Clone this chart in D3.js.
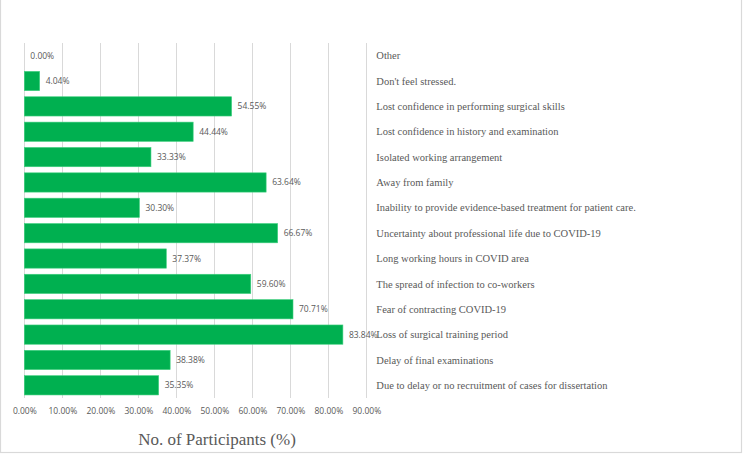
<!DOCTYPE html>
<html>
<head>
<meta charset="utf-8">
<script src="https://cdn.jsdelivr.net/npm/d3@7"></script>
<style>
  html, body { margin: 0; padding: 0; background: #fff; }
  svg { display: block; }
  .serif { font-family: "Liberation Serif", "Times New Roman", serif; }
  .sans { font-family: "Open Sans", sans-serif; }
</style>
</head>
<body>
<svg id="chart" width="743" height="455"></svg>
<script>
const categories = [
  "Other",
  "Don't feel stressed.",
  "Lost confidence in performing surgical skills",
  "Lost confidence in history and examination",
  "Isolated working arrangement",
  "Away from family",
  "Inability to provide evidence-based treatment for patient care.",
  "Uncertainty about professional life due to COVID-19",
  "Long working hours in COVID area",
  "The spread of infection to co-workers",
  "Fear of contracting COVID-19",
  "Loss of surgical training period",
  "Delay of final examinations",
  "Due to delay or no recruitment of cases for dissertation"
];
const values = [0.00, 4.04, 54.55, 44.44, 33.33, 63.64, 30.30, 66.67, 37.37, 59.60, 70.71, 83.84, 38.38, 35.35];
const tickValues = [0, 10, 20, 30, 40, 50, 60, 70, 80, 90];
const axisTitle = "No. of Participants (%)";

const svg = d3.select("#chart");
const W = 743, H = 455;

// outer frame
svg.append("rect")
  .attr("x", 0.5).attr("y", -1).attr("width", W - 2).attr("height", H - 1.5)
  .attr("fill", "#fff").attr("stroke", "#d9d9d9").attr("stroke-width", 1.2);

const x = d3.scaleLinear().domain([0, 90]).range([24.3, 366.3]);
const y = d3.scaleBand().domain(categories).range([43, 398]).paddingInner(0.24).paddingOuter(0.12);

// gridlines
svg.append("g").selectAll("line").data(tickValues).join("line")
  .attr("x1", d => Math.round(x(d)) + 0.5).attr("x2", d => Math.round(x(d)) + 0.5)
  .attr("y1", 43).attr("y2", 398)
  .attr("stroke", "#d9d9d9").attr("stroke-width", 1);

// bars
svg.append("g").selectAll("rect").data(values).join("rect")
  .attr("x", x(0))
  .attr("y", (d, i) => y(categories[i]))
  .attr("width", d => x(d) - x(0))
  .attr("height", y.bandwidth())
  .attr("fill", "#00b050")
  .attr("stroke", d => d > 0 ? "#3fd07f" : "none")
  .attr("stroke-width", 0.6);

// value labels
svg.append("g").selectAll("text").data(values).join("text")
  .attr("class", "sans")
  .attr("x", d => x(d) + 6)
  .attr("y", (d, i) => y(categories[i]) + y.bandwidth() / 2)
  .attr("dy", "0.35em")
  .style("font-size", "8.5px")
  .attr("fill", "#595959")
  .text(d => d.toFixed(2) + "%");

// category labels on right
svg.append("g").selectAll("text").data(categories).join("text")
  .attr("class", "serif")
  .attr("x", x(90) + 10)
  .attr("y", d => y(d) + y.bandwidth() / 2)
  .attr("dy", "0.35em")
  .style("font-size", "10.5px")
  .attr("fill", "#595959")
  .text(d => d);

// x axis tick labels
const axis = d3.axisBottom(x).tickValues(tickValues).tickSize(0).tickPadding(0)
  .tickFormat(d => d.toFixed(2) + "%");
const gAxis = svg.append("g").attr("transform", "translate(0,408)").call(axis);
gAxis.attr("font-family", null).attr("font-size", null);
gAxis.select(".domain").remove();
gAxis.selectAll("text")
  .attr("class", "sans")
  .style("font-size", "8.5px")
  .attr("fill", "#595959");

// axis title
svg.append("text")
  .attr("class", "serif")
  .attr("x", 217).attr("y", 439)
  .attr("text-anchor", "middle")
  .attr("dy", "0.35em")
  .style("font-size", "17px")
  .attr("fill", "#595959")
  .text(axisTitle);
</script>
</body>
</html>
